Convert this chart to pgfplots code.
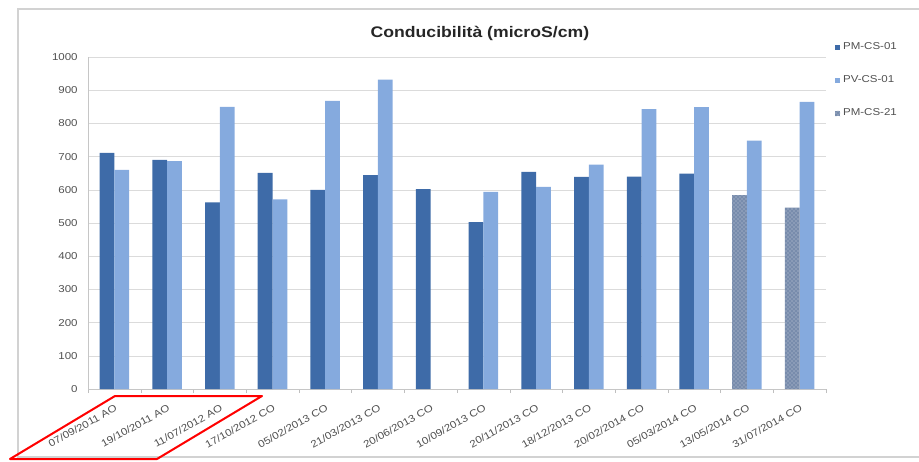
\documentclass[border=0pt]{standalone}
\usepackage{pgfplots}
\pgfplotsset{compat=1.18}
\usepackage{fontspec}
\setmainfont{Liberation Sans}[FakeStretch=1.15]
\usetikzlibrary{patterns}
\definecolor{dk}{RGB}{62,107,168}
\definecolor{lt}{RGB}{133,170,222}
\definecolor{pt}{RGB}{120,140,172}
\definecolor{txt}{RGB}{80,80,80}
\begin{document}
\begin{tikzpicture}
\begin{scope}[x=0.75pt,y=0.75pt]
\path[use as bounding box] (0,0) rectangle (919,461);
\draw[gray!35, line width=0.8pt] (18,4) rectangle (940,452);
\end{scope}
\begin{axis}[
  at={(66pt,54pt)}, anchor=south west, scale only axis,
  width=553.5pt, height=249pt,
  /pgf/number format/assume math mode=true,
  /pgf/number format/1000 sep={},
  xmin=-0.5, xmax=13.5, ymin=0, ymax=1000,
  ytick={0,100,...,1000},
  xtick={0,...,13},
  xticklabels={07/09/2011 AO,19/10/2011 AO,11/07/2012 AO,17/10/2012 CO,05/02/2013 CO,21/03/2013 CO,20/06/2013 CO,10/09/2013 CO,20/11/2013 CO,18/12/2013 CO,20/02/2014 CO,05/03/2014 CO,13/05/2014 CO,31/07/2014 CO},
  x tick label style={rotate=29, anchor=east, yshift=-9pt, xshift=0pt, font=\fontsize{7.5}{8}\selectfont, text=txt},
  y tick label style={font=\fontsize{7.5}{8}\selectfont, text=txt},
  major x tick style={draw=none},
  minor xtick={-0.5,0.5,...,13.5},
  minor x tick style={gray!50},
  minor tick length=3pt,
  tick align=outside,
  major y tick style={draw=none},
  ymajorgrids, grid style={gray!28},
  axis x line*=bottom, axis y line*=left,
  axis line style={gray!45, -},
  title={\textbf{Conducibilità (microS/cm)}},
  title style={at={(0.531,1.075)}, anchor=center, yshift=-7pt, font=\fontsize{11.5}{13}\selectfont, text=black!85},
  legend style={at={(1.012,1.051)}, anchor=north west, draw=none, fill=none,
    font=\fontsize{7.5}{8}\selectfont, text=txt, row sep=14pt, inner sep=0pt},
  legend cell align=left,
  legend image code/.code={\fill[#1] (0pt,-2pt) rectangle (4pt,2pt);},
  bar width=0.28,
]
\addplot[ybar, bar shift=-0.14, fill=dk, draw=none] coordinates {
 (0,711) (1,690) (2,562) (3,651) (4,600) (5,644) (6,602) (7,503) (8,654) (9,639) (10,640) (11,649)};
\addlegendentry{PM-CS-01}
\addplot[ybar, bar shift=0.14, fill=lt, draw=none] coordinates {
 (0,660) (1,686) (2,850) (3,571) (4,868) (5,932) (7,594) (8,609) (9,676) (10,843) (11,849) (12,748) (13,865)};
\addlegendentry{PV-CS-01}
\addplot[ybar, bar shift=-0.14, fill=pt, draw=none, postaction={pattern=crosshatch dots, pattern color=white!60!pt}] coordinates {
 (12,584) (13,546)};
\addlegendentry{PM-CS-21}
\end{axis}
\begin{scope}[x=0.75pt,y=0.75pt]
\draw[red, line width=1.5pt, line join=round] (10,2)--(115,65)--(262,65)--(157,2)--cycle;
\end{scope}
\end{tikzpicture}
\end{document}
